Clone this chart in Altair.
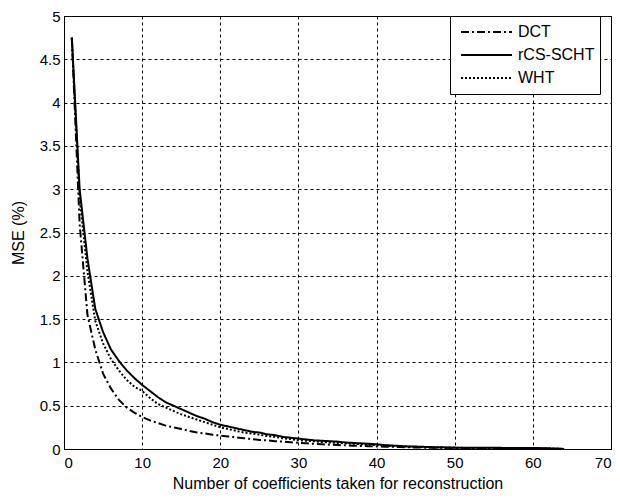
import altair as alt
import pandas as pd

x_vals = list(range(1, 65))

dct = [4.75, 2.6, 1.55, 1.15, 0.87, 0.70, 0.57, 0.48, 0.42, 0.37,
       0.33, 0.30, 0.27, 0.25, 0.23, 0.21, 0.19, 0.18, 0.165, 0.155,
       0.145, 0.135, 0.125, 0.115, 0.105, 0.10, 0.09, 0.085, 0.078, 0.072,
       0.066, 0.06, 0.055, 0.05, 0.046, 0.042, 0.038, 0.035, 0.032, 0.03,
       0.027, 0.025, 0.022, 0.02, 0.018, 0.016, 0.015, 0.014, 0.013, 0.012,
       0.011, 0.010, 0.009, 0.009, 0.008, 0.008, 0.007, 0.007, 0.006, 0.006,
       0.005, 0.004, 0.003, 0.0]

rcs = [4.75, 3.0, 2.2, 1.62, 1.35, 1.15, 1.02, 0.91, 0.82, 0.74,
       0.67, 0.60, 0.54, 0.50, 0.46, 0.42, 0.38, 0.35, 0.31, 0.28,
       0.26, 0.24, 0.22, 0.20, 0.19, 0.17, 0.16, 0.14, 0.13, 0.12,
       0.11, 0.10, 0.095, 0.09, 0.085, 0.075, 0.07, 0.065, 0.06, 0.055,
       0.045, 0.04, 0.035, 0.03, 0.028, 0.025, 0.022, 0.02, 0.018, 0.016,
       0.015, 0.015, 0.014, 0.014, 0.013, 0.013, 0.012, 0.012, 0.012, 0.012,
       0.01, 0.008, 0.005, 0.0]

wht = [4.75, 2.9, 2.05, 1.48, 1.22, 1.04, 0.91, 0.80, 0.72, 0.67,
       0.59, 0.52, 0.48, 0.44, 0.40, 0.37, 0.34, 0.31, 0.28, 0.25,
       0.23, 0.21, 0.19, 0.18, 0.165, 0.15, 0.14, 0.125, 0.115, 0.10,
       0.095, 0.09, 0.08, 0.075, 0.07, 0.065, 0.06, 0.055, 0.05, 0.045,
       0.04, 0.035, 0.03, 0.027, 0.024, 0.021, 0.019, 0.017, 0.015, 0.014,
       0.013, 0.012, 0.011, 0.010, 0.010, 0.009, 0.009, 0.008, 0.008, 0.007,
       0.006, 0.005, 0.003, 0.0]

series_names = ["DCT", "rCS-SCHT", "WHT"]
series_dash = [[8, 3, 2, 3], [1, 0], [2, 2]]

x_ticks = [0, 10, 20, 30, 40, 50, 60, 70]
y_ticks = [0, 0.5, 1, 1.5, 2, 2.5, 3, 3.5, 4, 4.5, 5]

rows = []
for name, vals in zip(series_names, [dct, rcs, wht]):
    for xv, yv in zip(x_vals, vals):
        rows.append({"x": xv, "y": yv, "series": name})
df = pd.DataFrame(rows)

FONT = "Liberation Sans"

chart = alt.Chart(df).mark_line(color="black", strokeWidth=2).encode(
    x=alt.X("x:Q", scale=alt.Scale(domain=[0, 70], nice=False),
            axis=alt.Axis(values=x_ticks, format="~r",
                          title="Number of coefficients taken for reconstruction")),
    y=alt.Y("y:Q", scale=alt.Scale(domain=[0, 5], nice=False),
            axis=alt.Axis(values=y_ticks, format="~r", title="MSE (%)")),
    strokeDash=alt.StrokeDash("series:N",
                              scale=alt.Scale(domain=series_names, range=series_dash),
                              legend=alt.Legend(title=None, orient="none", legendX=386, legendY=0,
                                                symbolType="stroke", symbolSize=2601, clipHeight=22,
                                                symbolStrokeWidth=2, symbolStrokeColor="black",
                                                symbolOffset=5, labelOffset=5,
                                                labelExpr="datum.label + '   '",
                                                labelFontSize=16, labelFont=FONT, labelColor="black",
                                                strokeColor="black", fillColor="white",
                                                padding=5, rowPadding=1)),
    order="x:Q",
).properties(
    width=547, height=433,
    autosize=alt.AutoSizeParams(type="none"),
    padding={"left": 56, "top": 8, "right": 1, "bottom": 42},
).configure_axis(
    grid=True, gridColor="black", gridDash=[3, 3], gridOpacity=1, gridWidth=1,
    domainColor="black", domainWidth=1, ticks=False,
    labelFont=FONT, labelFontSize=15, labelColor="black",
    titleFont=FONT, titleFontSize=16, titleFontWeight="normal", titleColor="black",
).configure_axisY(labelPadding=4, titlePadding=13).configure_axisX(
    labelPadding=6, titlePadding=5
).configure_view(
    stroke="black", strokeWidth=1
)

chart.save("out.html", embed_options={"renderer": "svg", "actions": False})
